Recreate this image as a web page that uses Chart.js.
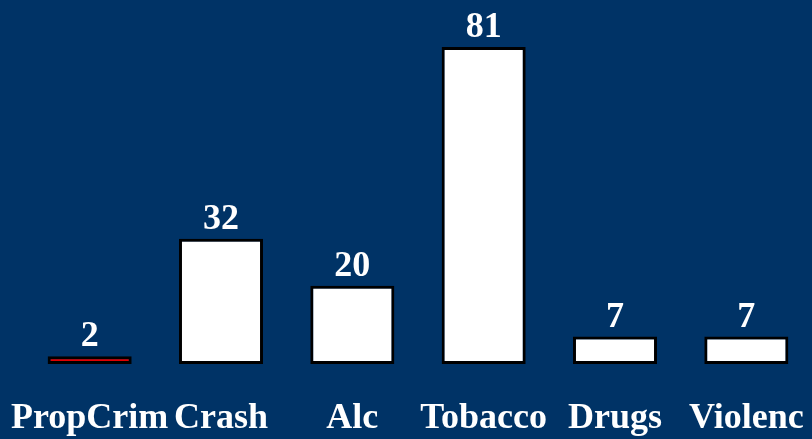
<!DOCTYPE html>
<html>
<head>
<meta charset="utf-8">
<script src="https://cdn.jsdelivr.net/npm/chart.js@4"></script>
<style>
  html, body { margin: 0; padding: 0; background: #003366; }
  #wrap { width: 812px; height: 439px; position: relative; }
</style>
</head>
<body>
<div id="wrap"><canvas id="myChart"></canvas></div>
<script>
var categories = ["PropCrim", "Crash", "Alc", "Tobacco", "Drugs", "Violenc"];
var counts = [2, 32, 20, 81, 7, 7];
var fills = ["#e00000", "#ffffff", "#ffffff", "#ffffff", "#ffffff", "#ffffff"];

var serif = "'Liberation Serif', 'Times New Roman', serif";

// value labels above each bar
var valueLabels = {
    id: "valueLabels",
    afterDatasetsDraw: function(chart) {
        var ctx = chart.ctx;
        var meta = chart.getDatasetMeta(0);
        ctx.save();
        ctx.fillStyle = "#ffffff";
        ctx.font = "bold 36px " + serif;
        ctx.textAlign = "center";
        ctx.textBaseline = "alphabetic";
        meta.data.forEach(function(bar, i) {
            ctx.fillText(String(counts[i]), bar.x, bar.y - 10);
        });
        ctx.restore();
    }
};

var ctx = document.getElementById("myChart");

var data = {
    labels: categories,
    datasets: [
        {
            label: "Count",
            data: counts,
            backgroundColor: fills,
            borderColor: "#000000",
            borderWidth: 3,
            borderSkipped: false,
            categoryPercentage: 0.64,
            barPercentage: 1.0
        }
    ]
};

var options = {
    responsive: true,
    maintainAspectRatio: false,
    animation: false,
    layout: {
        autoPadding: false,
        padding: { left: 24, right: -2, top: 0, bottom: 0 }
    },
    plugins: {
        legend: { display: false },
        tooltip: { enabled: false }
    },
    scales: {
        x: {
            grid: { display: false, drawTicks: false },
            border: { display: false },
            ticks: {
                color: "#ffffff",
                font: { family: serif, size: 36, weight: "bold" },
                padding: 33,
                autoSkip: false,
                maxRotation: 0,
                minRotation: 0
            },
            afterFit: function(scale) {
                scale.height = 75;
                scale.paddingLeft = 0;
                scale.paddingRight = 0;
            }
        },
        y: {
            display: false,
            min: 0,
            max: 93
        }
    }
};

var barChart = new Chart(ctx, {
    type: "bar",
    data: data,
    options: options,
    plugins: [valueLabels]
});
</script>
</body>
</html>
